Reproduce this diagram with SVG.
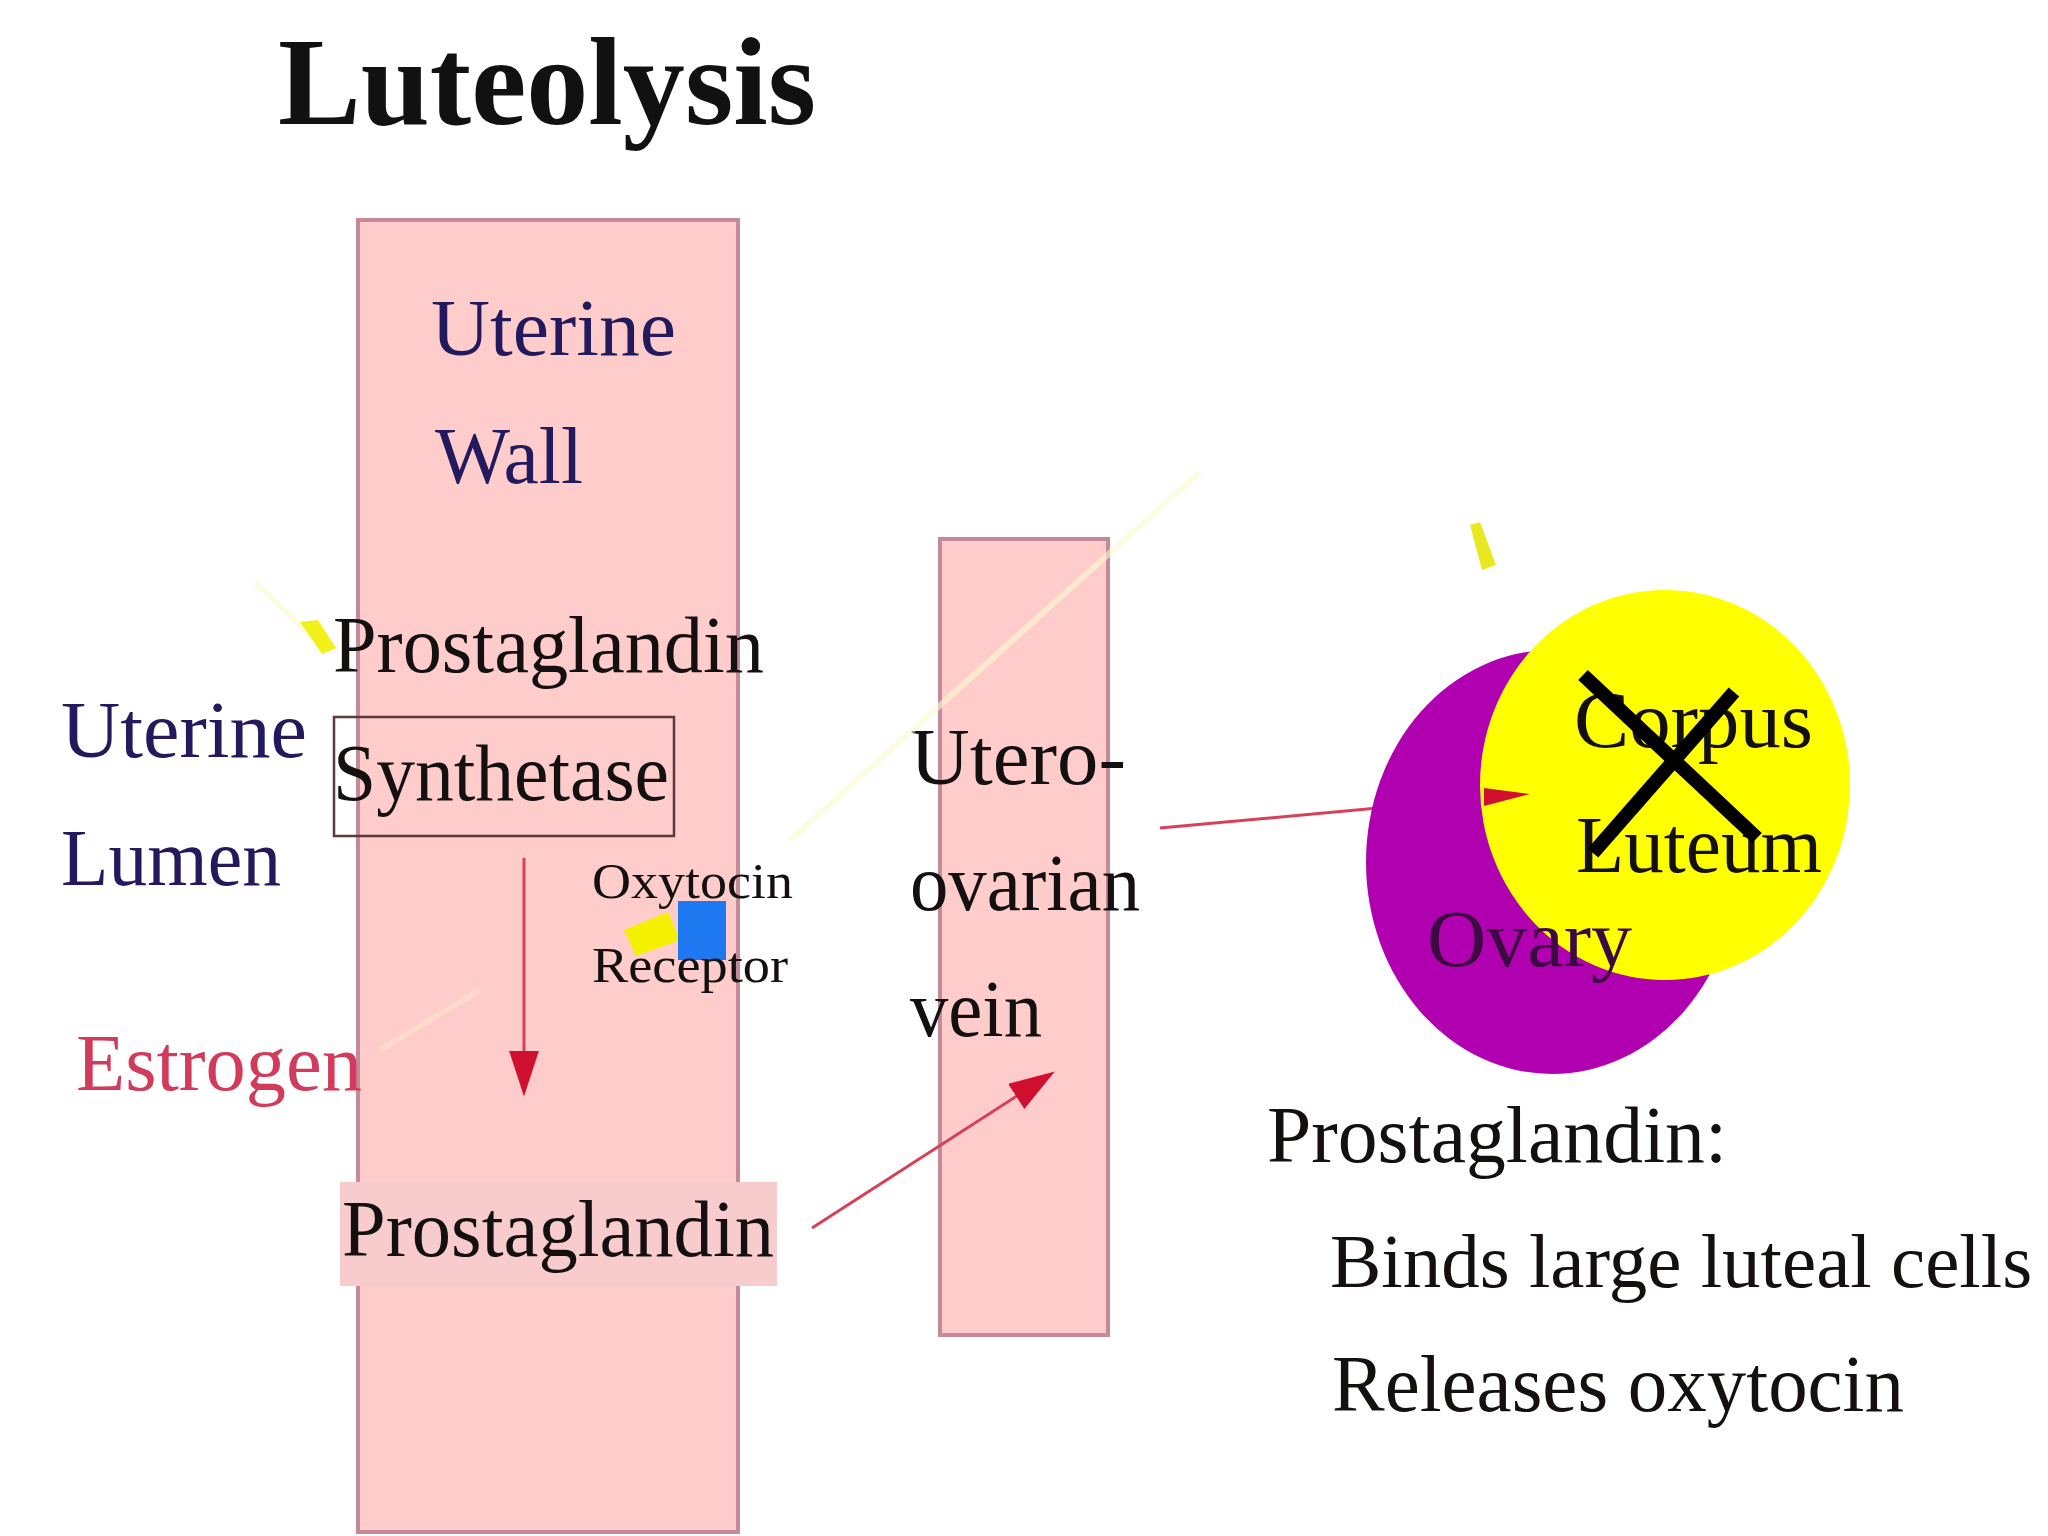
<svg xmlns="http://www.w3.org/2000/svg" width="2048" height="1536" viewBox="0 0 2048 1536">
<defs>
<style>
text{font-family:"Liberation Serif","Times New Roman",serif;}
.t{fill:#141010;font-size:80px;}
.navy{fill:#231a5e;font-size:80px;}
.small{fill:#141010;font-size:50px;}
.box{fill:#ffcccc;stroke:#c58a9a;stroke-width:4;}
.conn{stroke:#d8405a;stroke-width:3;fill:none;}
.faint{stroke:#fafad0;stroke-width:6;fill:none;opacity:0.6;}
</style>
<marker id="ahL" viewBox="0 0 10 10" refX="9" refY="5" markerWidth="46" markerHeight="30" markerUnits="userSpaceOnUse" orient="auto" preserveAspectRatio="none">
<path d="M0,0 L10,5 L0,10 Z" fill="#d0102e"/>
</marker>
</defs>
<rect width="2048" height="1536" fill="#ffffff"/>

<text x="278" y="124" font-size="124" font-weight="bold" fill="#111" textLength="538" lengthAdjust="spacingAndGlyphs">Luteolysis</text>

<g id="uterine-wall">
<rect class="box" x="358" y="220" width="380" height="1312"/>
<text class="navy" x="431" y="355" textLength="245" lengthAdjust="spacingAndGlyphs">Uterine</text>
<text class="navy" x="435" y="483" textLength="148" lengthAdjust="spacingAndGlyphs">Wall</text>
</g>

<g id="utero-ovarian-vein">
<rect class="box" x="940" y="539" width="168" height="796"/>
<text class="t" x="910" y="784" textLength="216" lengthAdjust="spacingAndGlyphs">Utero-</text>
<text class="t" x="910" y="910" textLength="230" lengthAdjust="spacingAndGlyphs">ovarian</text>
<text class="t" x="910" y="1036" textLength="132" lengthAdjust="spacingAndGlyphs">vein</text>
</g>

<!-- faint animation remnants -->
<g id="faint">
<line class="faint" x1="1200" y1="472" x2="790" y2="840"/>
<line class="faint" x1="255" y1="582" x2="315" y2="640"/>
<line x1="380" y1="1050" x2="480" y2="990" stroke="#fde8c8" stroke-width="6" opacity="0.5"/>
<polygon points="300,622 318,620 336,648 322,654" fill="#f2f21a"/>
<polygon points="1470,525 1480,522 1496,565 1482,570" fill="#e8e820"/>
</g>

<g id="uterine-lumen">
<text class="navy" x="61" y="757" textLength="246" lengthAdjust="spacingAndGlyphs">Uterine</text>
<text class="navy" x="61" y="885" textLength="220" lengthAdjust="spacingAndGlyphs">Lumen</text>
</g>

<g id="pg-synthetase">
<rect x="334" y="717" width="340" height="119" fill="none" stroke="#5a3a3a" stroke-width="2.5"/>
<text class="t" x="333" y="672" textLength="431" lengthAdjust="spacingAndGlyphs">Prostaglandin</text>
<text class="t" x="333" y="800" textLength="336" lengthAdjust="spacingAndGlyphs">Synthetase</text>
</g>

<g id="oxytocin-receptor">
<polygon points="624,930 668,912 680,940 636,956" fill="#f5f000"/>
<rect x="678" y="901" width="48" height="59" fill="#1e78f0"/>
<text class="small" x="592" y="898" textLength="201" lengthAdjust="spacingAndGlyphs">Oxytocin</text>
<text class="small" x="592" y="982" textLength="196" lengthAdjust="spacingAndGlyphs">Receptor</text>
</g>

<g id="estrogen">
<text x="76" y="1090" font-size="80" fill="#d23c5c" textLength="286" lengthAdjust="spacingAndGlyphs">Estrogen</text>
</g>

<g id="prostaglandin">
<rect x="340" y="1182" width="437" height="104" fill="#f8cccc"/>
<text class="t" x="342" y="1256" textLength="432" lengthAdjust="spacingAndGlyphs">Prostaglandin</text>
</g>

<g id="connectors">
<line class="conn" x1="524" y1="858" x2="524" y2="1092" marker-end="url(#ahL)"/>
<line class="conn" x1="812" y1="1228" x2="1051" y2="1074" marker-end="url(#ahL)"/>
<line class="conn" x1="1160" y1="828" x2="1530" y2="794" marker-end="url(#ahL)"/>
</g>

<g id="ovary">
<ellipse cx="1552" cy="862" rx="186" ry="212" fill="#b000b0"/>
</g>

<g id="corpus-luteum">
<ellipse cx="1665" cy="785" rx="185" ry="195" fill="#ffff00"/>
<path d="M1484,788 L1530,794 L1484,806 Z" fill="#d0102e"/>
<text class="t" x="1574" y="747" textLength="239" lengthAdjust="spacingAndGlyphs">Corpus</text>
<text class="t" x="1576" y="872" textLength="246" lengthAdjust="spacingAndGlyphs">Luteum</text>
<line x1="1583" y1="675" x2="1757" y2="838" stroke="#000" stroke-width="14"/>
<line x1="1734" y1="692" x2="1593" y2="853" stroke="#000" stroke-width="14"/>
</g>

<g id="ovary-label">
<text x="1427" y="966" font-size="80" fill="#3a0a40" textLength="205" lengthAdjust="spacingAndGlyphs">Ovary</text>
</g>

<g id="notes">
<text class="t" x="1267" y="1162" textLength="460" lengthAdjust="spacingAndGlyphs">Prostaglandin:</text>
<text class="t" x="1330" y="1287" style="font-size:77px">Binds large luteal cells</text>
<text class="t" x="1332" y="1411" textLength="572" lengthAdjust="spacingAndGlyphs">Releases oxytocin</text>
</g>
</svg>
